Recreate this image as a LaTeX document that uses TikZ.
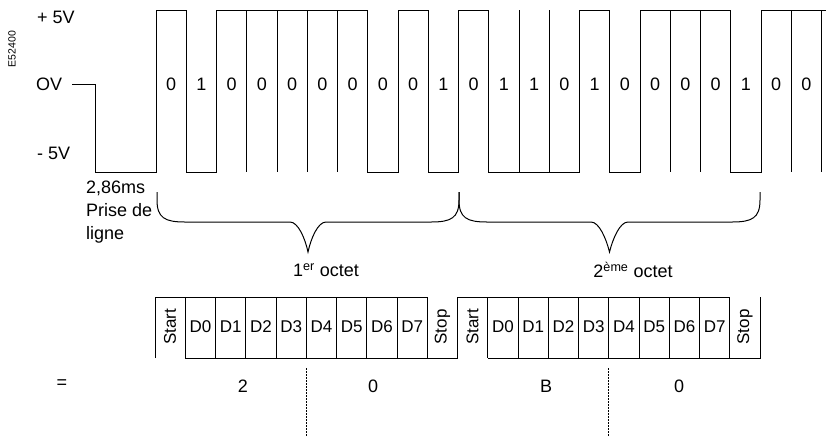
\documentclass[tikz,border=0pt]{standalone}
\usepackage{fontspec}
\setmainfont{Liberation Sans}
\begin{document}
\begin{tikzpicture}[x=1pt,y=-1pt,
  sig/.style={line width=1pt},
  cell/.style={line width=1pt},
  cut/.style={line width=0.8pt,dash pattern=on 1.5pt off 1.5pt},
  txt/.style={font=\fontsize{18}{21}\selectfont,inner sep=0pt},
  small/.style={font=\fontsize{17}{20}\selectfont,inner sep=0pt}]
\useasboundingbox (0,0) rectangle (826,437);
% levels
\node[txt,anchor=west] (hi) at (37,17) {+ 5V};
\node[txt,anchor=west] (zero) at (36,84) {OV};
\node[txt,anchor=west] (lo) at (37,153) {- 5V};
\node[font=\fontsize{10.5}{12}\selectfont,rotate=90,inner sep=0pt] (ref) at (12,49) {E52400};
% signal
\draw[sig] (72,84) -- (95,84) -- (95,172) -- (156,172) -- (156,10) -- (186.25,10)
  -- (186.25,172) -- (216.5,172) -- (216.5,10) -- (367.75,10) -- (367.75,172)
  -- (398,172) -- (398,10) -- (428.25,10) -- (428.25,172) -- (458.5,172)
  -- (458.5,10) -- (488.75,10) -- (488.75,172) -- (579.5,172) -- (579.5,10)
  -- (609.75,10) -- (609.75,172) -- (640,172) -- (640,10) -- (730.75,10)
  -- (730.75,172) -- (761,172) -- (761,10) -- (826,10);
\foreach \x in {246.75,277,307.25,337.5,519,549.25,670.25,700.5,791.25,821.5}
  \draw[sig] (\x,10) -- (\x,172);
\foreach \b [count=\i] in {0,1,0,0,0,0,0,0,0,1,0,1,1,0,1,0,0,0,0,1,0,0}
  \node[txt] (bit\i) at ({156+30.25*\i-15.125},84) {\b};
% line seizure
\node[txt,anchor=base west] (dur) at (86,193) {2,86ms};
\node[txt,anchor=base west] (prise) at (86,216) {Prise de};
\node[txt,anchor=base west] (ligne) at (86,239) {ligne};
% braces
\draw[sig] (157,192) -- (157,200) .. controls (157,218) and (165,222) .. (185,222)
  -- (290,222) .. controls (298,222) and (305,238) .. (308,252)
  .. controls (311,238) and (318,222) .. (326,222) -- (431,222)
  .. controls (451,222) and (459,218) .. (459,200) -- (459,192);
\draw[sig] (459,192) -- (459,200) .. controls (459,218) and (467,222) .. (487,222)
  -- (591,222) .. controls (599,222) and (606,238) .. (609.5,252)
  .. controls (613,238) and (620,222) .. (628,222) -- (732,222)
  .. controls (752,222) and (760,218) .. (760,200) -- (760,192);
\node[txt] (oct1) at (326,270) {1\textsuperscript{er} octet};
\node[txt] (oct2) at (633,270) {2\textsuperscript{ème} octet};
% frame
\draw[cell] (155,358) -- (155,297) -- (427.25,297) -- (427.25,358);
\draw[cell] (185.25,358) -- (457.5,358) -- (457.5,297) -- (729.75,297) -- (729.75,358);
\draw[cell] (487.75,358) -- (760,358) -- (760,297);
\foreach \x in {185.25,215.5,245.75,276,306.25,336.5,366.75,397,487.75,518,548.25,578.5,608.75,639,669.25,699.5}
  \draw[cell] (\x,297) -- (\x,358);
\node[small,rotate=90] (start1) at (170.1,327) {Start};
\node[small,rotate=90] (stop1) at (442.4,327) {Stop};
\node[small,rotate=90] (start2) at (472.6,327) {Start};
\node[small,rotate=90] (stop2) at (744.9,327) {Stop};
\foreach \d in {0,...,7} {
  \node[small] (da\d) at ({200.4+30.25*\d},327) {D\d};
  \node[small] (db\d) at ({502.9+30.25*\d},327) {D\d};
}
% hex values
\node[txt] (eq) at (62,384) {=};
\node[txt] (hexa) at (243,386) {2};
\node[txt] (hexb) at (373,386) {0};
\node[txt] (hexc) at (546,386) {B};
\node[txt] (hexd) at (679,386) {0};
\coordinate (cuta) at (306.25,368);
\coordinate (cutb) at (306.25,437);
\coordinate (cutc) at (608.75,368);
\coordinate (cutd) at (608.75,437);
\draw[cut] (cuta) -- (cutb);
\draw[cut] (cutc) -- (cutd);
\end{tikzpicture}
\end{document}
